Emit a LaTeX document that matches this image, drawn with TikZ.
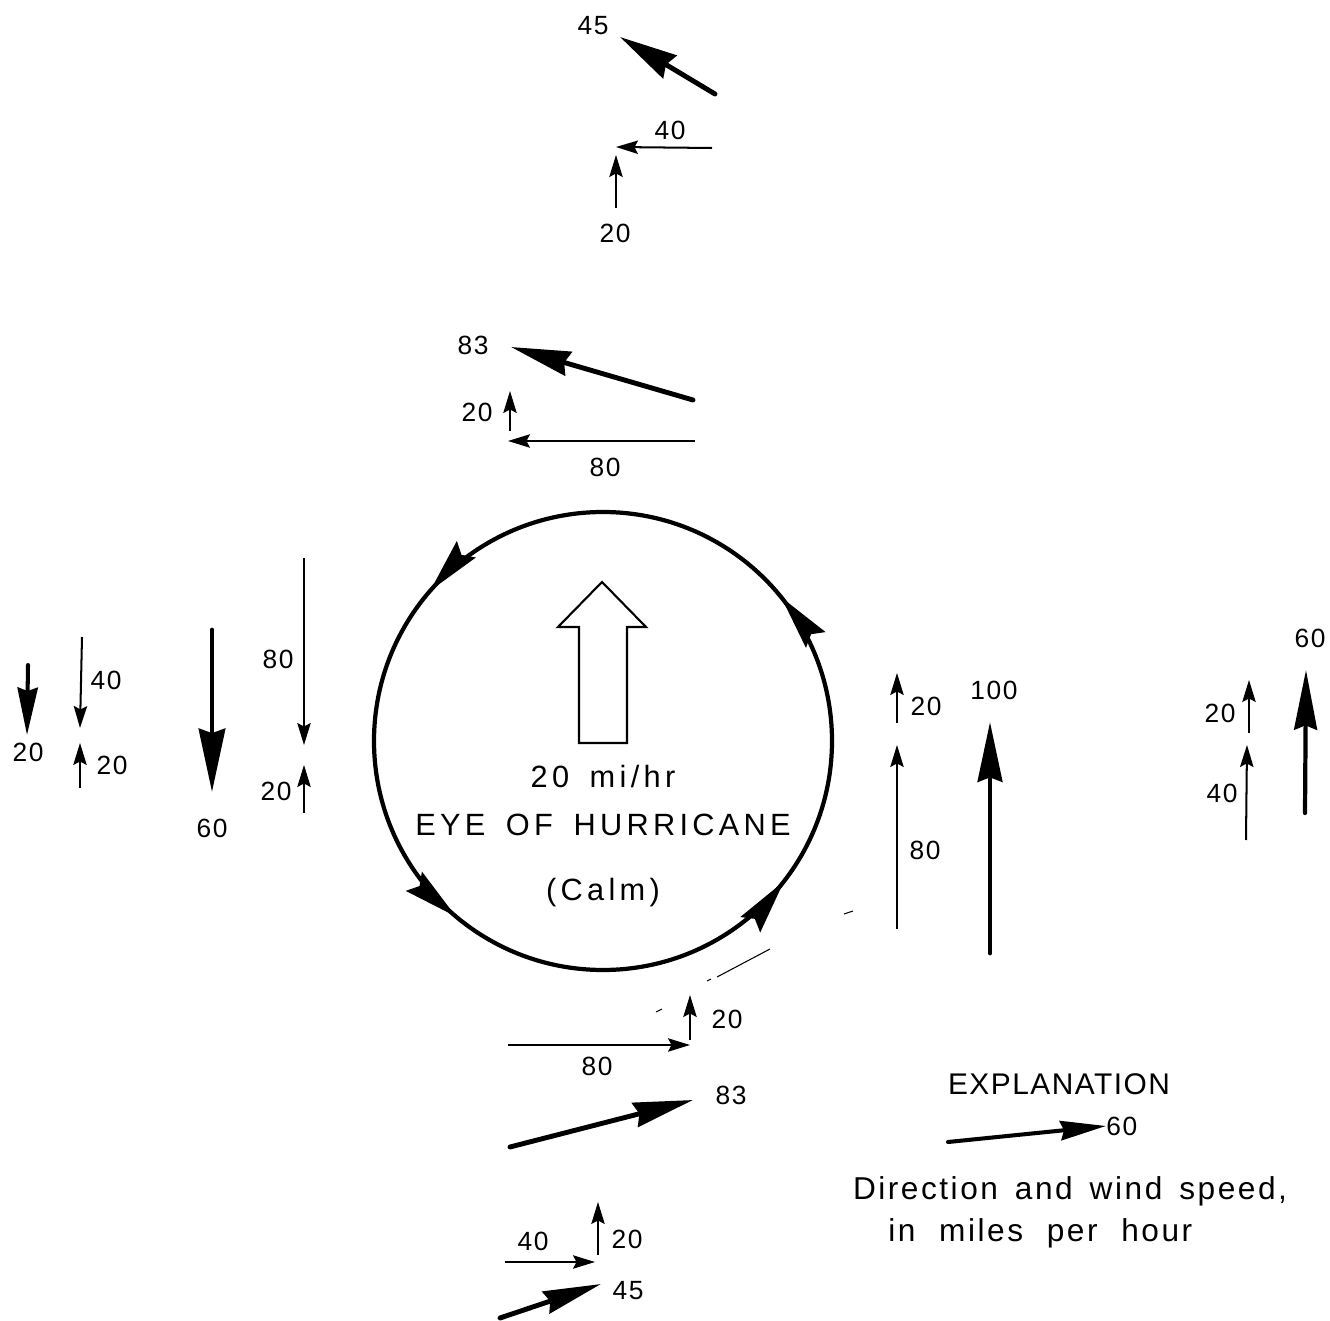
\documentclass[tikz,border=0pt]{standalone}
\usepackage{fontspec}
\setmainfont{Liberation Sans}
\newfontfamily\numfont[LetterSpace=6]{Liberation Sans}
\newfontfamily\eyefont[LetterSpace=14,WordSpace=1.6]{Liberation Sans}
\newfontfamily\expfont[LetterSpace=8,WordSpace=1.5]{Liberation Sans}
\newfontfamily\exptitlefont[LetterSpace=5]{Liberation Sans}
\usetikzlibrary{arrows.meta,decorations.markings}
\begin{document}
\begin{tikzpicture}[x=0.02cm,y=-0.02cm,
  num/.style={font=\numfont\fontsize{15}{18}\selectfont, inner sep=0pt},
  eye/.style={font=\eyefont\fontsize{17.5}{21}\selectfont, inner sep=0pt},
  expl/.style={font=\expfont\fontsize{18}{22}\selectfont, inner sep=0pt},
  thinarrow/.style={line width=1.15pt, -{Stealth[length=12.5pt,width=7.6pt,inset=2pt]}},
  heavyarrow/.style={line width=2.8pt, line cap=round},
  circarrow/.style={line width=2.4pt, postaction={decorate},
    decoration={markings,
      mark=at position 0.105 with {\arrowreversed{Stealth[length=31pt,width=14pt,inset=4pt]}},
      mark=at position 0.361 with {\arrowreversed{Stealth[length=31pt,width=14pt,inset=4pt]}},
      mark=at position 0.614 with {\arrowreversed{Stealth[length=31pt,width=14pt,inset=4pt]}},
      mark=at position 0.892 with {\arrowreversed{Stealth[length=31pt,width=14pt,inset=4pt]}}}},
  stray/.style={line width=0.6pt}
]
\useasboundingbox (0,0) rectangle (1330,1321);

% ---------- eye of hurricane ----------
\coordinate (c) at (603,741);
\draw[circarrow] (c) circle[radius=229];
\draw[line width=1.2pt, line join=miter]
  (579,743) -- (579,627) -- (558,627) -- (602,582) -- (646,627) -- (627,627) -- (627,743) -- cycle;
\node[eye] (speed) at (603,777) {20 mi/hr};
\node[eye] (eyetxt) at (603,825) {EYE OF HURRICANE};
\node[eye] (calm) at (603,893) {(Calm)};

% ---------- top group ----------
\coordinate (t45s) at (715,94);  \coordinate (t45e) at (620,37);
\draw[heavyarrow, -{Stealth[length=33pt,width=15pt,inset=2.5pt]}] (t45s) -- (t45e);
\node[num] (lt45) at (593,26) {45};
\coordinate (t40s) at (712,148); \coordinate (t40e) at (616,147);
\draw[thinarrow] (t40s) -- (t40e);
\node[num] (lt40) at (670,130) {40};
\coordinate (t20s) at (616,208); \coordinate (t20e) at (616,155);
\draw[thinarrow] (t20s) -- (t20e);
\node[num] (lt20) at (615,233) {20};

% ---------- upper group ----------
\coordinate (u83s) at (693,400); \coordinate (u83e) at (511,347);
\draw[heavyarrow, -{Stealth[length=34pt,width=14pt,inset=2.5pt]}] (u83s) -- (u83e);
\node[num] (lu83) at (473,345) {83};
\coordinate (u20s) at (510,431); \coordinate (u20e) at (510,391);
\draw[thinarrow] (u20s) -- (u20e);
\node[num] (lu20) at (477,412) {20};
\coordinate (u80s) at (695,441); \coordinate (u80e) at (508,441);
\draw[thinarrow] (u80s) -- (u80e);
\node[num] (lu80) at (605,467) {80};

% ---------- left group ----------
\coordinate (l20hs) at (28,665); \coordinate (l20he) at (27,735);
\draw[heavyarrow, line width=2.3pt, -{Stealth[length=27pt,width=11.5pt,inset=2pt]}] (l20hs) -- (l20he);
\node[num] (ll20h) at (28,752) {20};
\coordinate (l40s) at (82,637); \coordinate (l40e) at (80,728);
\draw[thinarrow] (l40s) -- (l40e);
\node[num] (ll40) at (106,680) {40};
\coordinate (l20as) at (80,788); \coordinate (l20ae) at (80,743);
\draw[thinarrow] (l20as) -- (l20ae);
\node[num] (ll20a) at (112,765) {20};
\coordinate (l60s) at (212,630); \coordinate (l60e) at (212,792);
\draw[heavyarrow, -{Stealth[length=36pt,width=15pt,inset=2.5pt]}] (l60s) -- (l60e);
\node[num] (ll60) at (212,828) {60};
\coordinate (l80s) at (304,558); \coordinate (l80e) at (304,745);
\draw[thinarrow] (l80s) -- (l80e);
\node[num] (ll80) at (278,659) {80};
\coordinate (l20bs) at (304,813); \coordinate (l20be) at (304,765);
\draw[thinarrow] (l20bs) -- (l20be);
\node[num] (ll20b) at (276,791) {20};

% ---------- right of eye ----------
\coordinate (r20s) at (897,723); \coordinate (r20e) at (897,673);
\draw[thinarrow] (r20s) -- (r20e);
\node[num] (lr20) at (926,706) {20};
\coordinate (r80s) at (897,929); \coordinate (r80e) at (897,745);
\draw[thinarrow] (r80s) -- (r80e);
\node[num] (lr80) at (925,850) {80};
\coordinate (r100s) at (990,953); \coordinate (r100e) at (990,722);
\draw[heavyarrow, -{Stealth[length=34pt,width=14pt,inset=2.5pt]}] (r100s) -- (r100e);
\node[num] (lr100) at (994,690) {100};

% ---------- far right ----------
\coordinate (f20s) at (1249,733); \coordinate (f20e) at (1249,680);
\draw[thinarrow] (f20s) -- (f20e);
\node[num] (lf20) at (1220,713) {20};
\coordinate (f40s) at (1246,840); \coordinate (f40e) at (1247,745);
\draw[thinarrow] (f40s) -- (f40e);
\node[num] (lf40) at (1222,793) {40};
\coordinate (f60s) at (1305,813); \coordinate (f60e) at (1306,670);
\draw[heavyarrow, line width=2.4pt, -{Stealth[length=34pt,width=13pt,inset=2.5pt]}] (f60s) -- (f60e);
\node[num] (lf60) at (1310,638) {60};

% ---------- bottom group ----------
\coordinate (b20s) at (690,1040); \coordinate (b20e) at (690,995);
\draw[thinarrow] (b20s) -- (b20e);
\node[num] (lb20) at (727,1019) {20};
\coordinate (b80s) at (508,1045); \coordinate (b80e) at (690,1045);
\draw[thinarrow] (b80s) -- (b80e);
\node[num] (lb80) at (597,1066) {80};
\coordinate (b83s) at (510,1147); \coordinate (b83e) at (693,1100);
\draw[heavyarrow, -{Stealth[length=34pt,width=14pt,inset=2.5pt]}] (b83s) -- (b83e);
\node[num] (lb83) at (731,1095) {83};
\coordinate (b40s) at (505,1262); \coordinate (b40e) at (595,1262);
\draw[thinarrow] (b40s) -- (b40e);
\node[num] (lb40) at (533,1241) {40};
\coordinate (b20bs) at (598,1255); \coordinate (b20be) at (598,1202);
\draw[thinarrow] (b20bs) -- (b20be);
\node[num] (lb20b) at (627,1239) {20};
\coordinate (b45s) at (500,1318); \coordinate (b45e) at (601,1284);
\draw[heavyarrow, -{Stealth[length=33pt,width=13pt,inset=2.5pt]}] (b45s) -- (b45e);
\node[num] (lb45) at (628,1291) {45};

% ---------- explanation ----------
\node[inner sep=0pt, font=\exptitlefont\fontsize{17}{21}\selectfont] (exptitle) at (1059,1084) {EXPLANATION};
\coordinate (xs) at (948,1142); \coordinate (xe) at (1106,1126);
\draw[heavyarrow, line width=2.3pt, -{Stealth[length=26pt,width=11pt,inset=2pt]}] (xs) -- (xe);
\node[num, anchor=west] (x60) at (1106,1126) {60};
\node[expl] (expl1) at (1070,1191) {Direction and wind speed,};
\node[expl, anchor=west] (expl2) at (888,1233) {in\hspace{13.5pt}miles\hspace{13.5pt}per\hspace{13.5pt}hour};

% ---------- stray marks ----------
\draw[stray] (844,914) -- (853,911);
\draw[stray] (707,981) -- (711,979);
\draw[stray] (717,977) -- (770,949);
\draw[stray] (656,1012) -- (662,1009);
\end{tikzpicture}
\end{document}
